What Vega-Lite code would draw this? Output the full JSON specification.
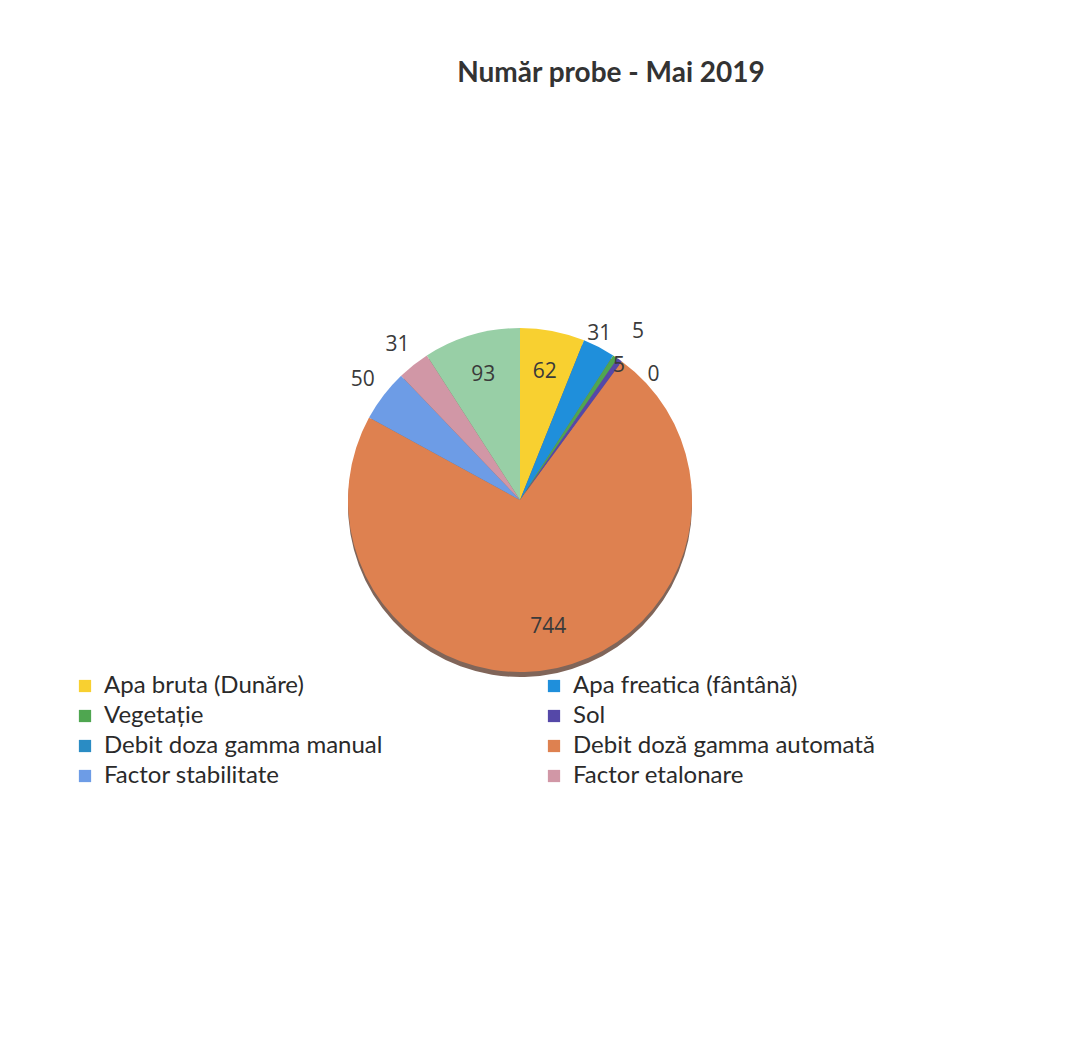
{
  "$schema": "https://vega.github.io/schema/vega-lite/v6.json",
  "width": 344,
  "height": 344,
  "autosize": {"type": "none"},
  "padding": {"left": 348, "top": 328, "right": 395, "bottom": 380},
  "background": "white",
  "view": {"stroke": null},
  "title": {
    "text": "Număr probe - Mai 2019",
    "font": "Lato",
    "fontSize": 28,
    "fontWeight": "bold",
    "color": "#333333",
    "anchor": "middle",
    "dx": 91,
    "offset": 203
  },
  "data": {
    "values": [
      {"idx": 1, "cat": "Apa bruta (Dunăre)", "n": 62},
      {"idx": 2, "cat": "Apa freatica (fântână)", "n": 31},
      {"idx": 3, "cat": "Vegetație", "n": 5},
      {"idx": 4, "cat": "Sol", "n": 5},
      {"idx": 5, "cat": "Debit  doza gamma manual", "n": 0},
      {"idx": 6, "cat": "Debit doză gamma automată", "n": 744},
      {"idx": 7, "cat": "Factor stabilitate", "n": 50},
      {"idx": 8, "cat": "Factor etalonare", "n": 31},
      {"idx": 9, "cat": "Alte probe", "n": 93}
    ]
  },
  "encoding": {
    "theta": {"field": "n", "type": "quantitative", "stack": true},
    "order": {"field": "idx", "type": "quantitative"}
  },
  "layer": [
    {
      "mark": {"type": "arc", "yOffset": 5, "color": "#6a4a3c", "opacity": 0.85}
    },
    {
      "mark": {"type": "arc"},
      "encoding": {
        "color": {
          "field": "cat",
          "type": "nominal",
          "scale": {
            "domain": ["Apa bruta (Dunăre)", "Apa freatica (fântână)", "Vegetație", "Sol", "Debit  doza gamma manual", "Debit doză gamma automată", "Factor stabilitate", "Factor etalonare", "Alte probe"],
            "range": ["#F8D030", "#1F8FDB", "#4FA650", "#5548A8", "#2A8CC4", "#DE8150", "#6D9CE6", "#D197A6", "#98CFA6"]
          },
          "legend": {
            "title": null,
            "orient": "none",
            "legendX": -275,
            "legendY": 346,
            "columns": 2,
            "direction": "horizontal",
            "values": ["Apa bruta (Dunăre)", "Apa freatica (fântână)", "Vegetație", "Sol", "Debit  doza gamma manual", "Debit doză gamma automată", "Factor stabilitate", "Factor etalonare"],
            "symbolType": "square",
            "symbolSize": 150,
            "symbolStrokeWidth": 0,
            "labelFont": "Lato",
            "labelFontSize": 24,
            "labelColor": "#2a2a2a",
            "labelLimit": 400,
            "labelOffset": 7,
            "rowPadding": 6,
            "columnPadding": 153
          }
        }
      }
    },
    {
      "mark": {"type": "text", "radius": 130, "font": "Open Sans", "fontSize": 21, "color": "#3a3a3a"},
      "encoding": {
        "text": {
          "condition": {"test": "indexof(['Apa bruta (Dunăre)', 'Debit doză gamma automată', 'Alte probe'], datum.cat) >= 0", "field": "n", "type": "quantitative"},
          "value": ""
        }
      }
    },
    {
      "mark": {"type": "text", "radius": 198, "font": "Open Sans", "fontSize": 21, "color": "#3a3a3a"},
      "encoding": {
        "text": {
          "condition": {"test": "indexof(['Factor stabilitate', 'Factor etalonare'], datum.cat) >= 0", "field": "n", "type": "quantitative"},
          "value": ""
        }
      }
    },
    {
      "mark": {"type": "text", "radius": 190, "dx": -8, "dy": 3, "font": "Open Sans", "fontSize": 21, "color": "#3a3a3a"},
      "encoding": {
        "text": {
          "condition": {"test": "datum.cat === 'Apa freatica (fântână)'", "field": "n", "type": "quantitative"},
          "value": ""
        }
      }
    },
    {
      "mark": {"type": "text", "radius": 200, "dx": 7, "dy": -2, "font": "Open Sans", "fontSize": 21, "color": "#3a3a3a"},
      "encoding": {
        "text": {
          "condition": {"test": "datum.cat === 'Vegetație'", "field": "n", "type": "quantitative"},
          "value": ""
        }
      }
    },
    {
      "mark": {"type": "text", "radius": 164, "dx": 4, "font": "Open Sans", "fontSize": 21, "color": "#3a3a3a"},
      "encoding": {
        "text": {
          "condition": {"test": "datum.cat === 'Sol'", "field": "n", "type": "quantitative"},
          "value": ""
        }
      }
    },
    {
      "mark": {"type": "text", "radius": 183, "dx": 25, "dy": 22, "font": "Open Sans", "fontSize": 21, "color": "#3a3a3a"},
      "encoding": {
        "text": {
          "condition": {"test": "datum.cat === 'Debit  doza gamma manual'", "field": "n", "type": "quantitative"},
          "value": ""
        }
      }
    }
  ]
}
